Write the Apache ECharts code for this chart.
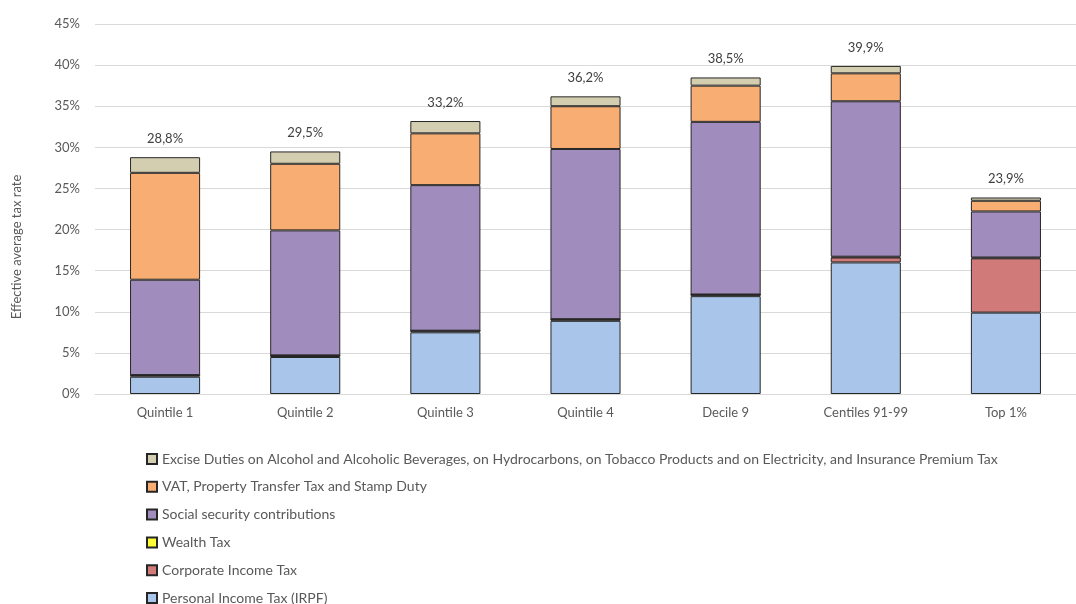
<!DOCTYPE html>
<html>
<head>
<meta charset="utf-8">
<script src="https://cdn.jsdelivr.net/npm/echarts@6/dist/echarts.min.js"></script>
<style>
  html, body { margin: 0; padding: 0; background: #ffffff; }
  #chart { width: 1076px; height: 604px; }
</style>
</head>
<body>
<div id="chart"></div>
<script>
// Effective average tax rate by income group, split by tax (percent of income)
const categories = ['Quintile 1', 'Quintile 2', 'Quintile 3', 'Quintile 4', 'Decile 9', 'Centiles 91-99', 'Top 1%'];

const personalIncomeTax = [2.1, 4.5, 7.5, 8.9, 11.9, 16.0, 9.9];
const corporateIncomeTax = [0.2, 0.2, 0.2, 0.2, 0.2, 0.6, 6.6];
const wealthTax = [0.0, 0.0, 0.0, 0.0, 0.0, 0.1, 0.1];
const socialSecurity = [11.6, 15.2, 17.7, 20.7, 21.0, 18.9, 5.6];
const vatTransferStamp = [13.0, 8.1, 6.3, 5.2, 4.4, 3.4, 1.3];
const exciseDuties = [1.9, 1.5, 1.5, 1.2, 1.0, 0.9, 0.4];

const yTicks = [0, 5, 10, 15, 20, 25, 30, 35, 40, 45];

const seriesDefs = [
  { name: 'Personal Income Tax (IRPF)', data: personalIncomeTax, color: '#a9c5ea' },
  { name: 'Corporate Income Tax', data: corporateIncomeTax, color: '#d07b79' },
  { name: 'Wealth Tax', data: wealthTax, color: '#ffff33' },
  { name: 'Social security contributions', data: socialSecurity, color: '#a18dbd' },
  { name: 'VAT, Property Transfer Tax and Stamp Duty', data: vatTransferStamp, color: '#f8ae72' },
  { name: 'Excise Duties on Alcohol and Alcoholic Beverages, on Hydrocarbons, on Tobacco Products and on Electricity, and Insurance Premium Tax', data: exciseDuties, color: '#d4ceb1' }
];

// stack totals shown above each bar
const totals = categories.map((_, i) =>
  Math.round(seriesDefs.reduce((s, d) => s + d.data[i], 0) * 10) / 10);

const FONT = 'Lato, "Open Sans", sans-serif';
const TEXT = '#595959';

const series = seriesDefs.map((d, idx) => {
  const s = {
    name: d.name,
    type: 'bar',
    stack: 'total',
    barWidth: '50%',
    data: d.data,
    itemStyle: { color: d.color, borderColor: '#262626', borderWidth: 1 },
    emphasis: { disabled: true }
  };
  if (idx === seriesDefs.length - 1) {
    s.label = {
      show: true,
      position: 'top',
      distance: 12,
      color: '#404040',
      fontFamily: FONT,
      fontSize: 13,
      formatter: p => totals[p.dataIndex].toFixed(1).replace('.', ',') + '%'
    };
  }
  return s;
});

// legend lists the taxes top-down in reverse stacking order, one row each,
// so the column runs to the page bottom without wrapping
const legendNames = seriesDefs.map(d => d.name).reverse();
const legends = legendNames.map((name, i) => ({
  orient: 'vertical',
  left: 146,
  top: 452 + i * 27.8,
  padding: 0,
  icon: 'rect',
  itemWidth: 10,
  itemHeight: 10,
  selectedMode: false,
  data: [name],
  textStyle: { color: TEXT, fontSize: 14, fontFamily: FONT }
}));

const chart = echarts.init(document.getElementById('chart'), null, { renderer: 'canvas' });
chart.setOption({
  animation: false,
  backgroundColor: '#ffffff',
  textStyle: { fontFamily: FONT },
  grid: { left: 95, top: 24, width: 993, height: 370, containLabel: false },
  legend: legends,
  xAxis: {
    type: 'category',
    data: categories,
    axisLine: { show: true, lineStyle: { color: '#d9d9d9', width: 1 } },
    axisTick: { show: false },
    axisLabel: { color: TEXT, fontSize: 13, fontFamily: FONT, margin: 12 }
  },
  yAxis: {
    type: 'value',
    min: yTicks[0],
    max: yTicks[yTicks.length - 1],
    interval: 5,
    axisLine: { show: false },
    axisTick: { show: false },
    splitLine: { lineStyle: { color: '#d9d9d9', width: 1 } },
    axisLabel: { color: TEXT, fontSize: 13, fontFamily: FONT, margin: 15, formatter: '{value}%' }
  },
  graphic: [{
    type: 'text',
    x: 17,
    y: 247,
    rotation: Math.PI / 2,
    style: {
      text: 'Effective average tax rate',
      fill: TEXT,
      font: '13px ' + FONT,
      align: 'center',
      verticalAlign: 'middle'
    }
  }],
  series: series
});
</script>
</body>
</html>
